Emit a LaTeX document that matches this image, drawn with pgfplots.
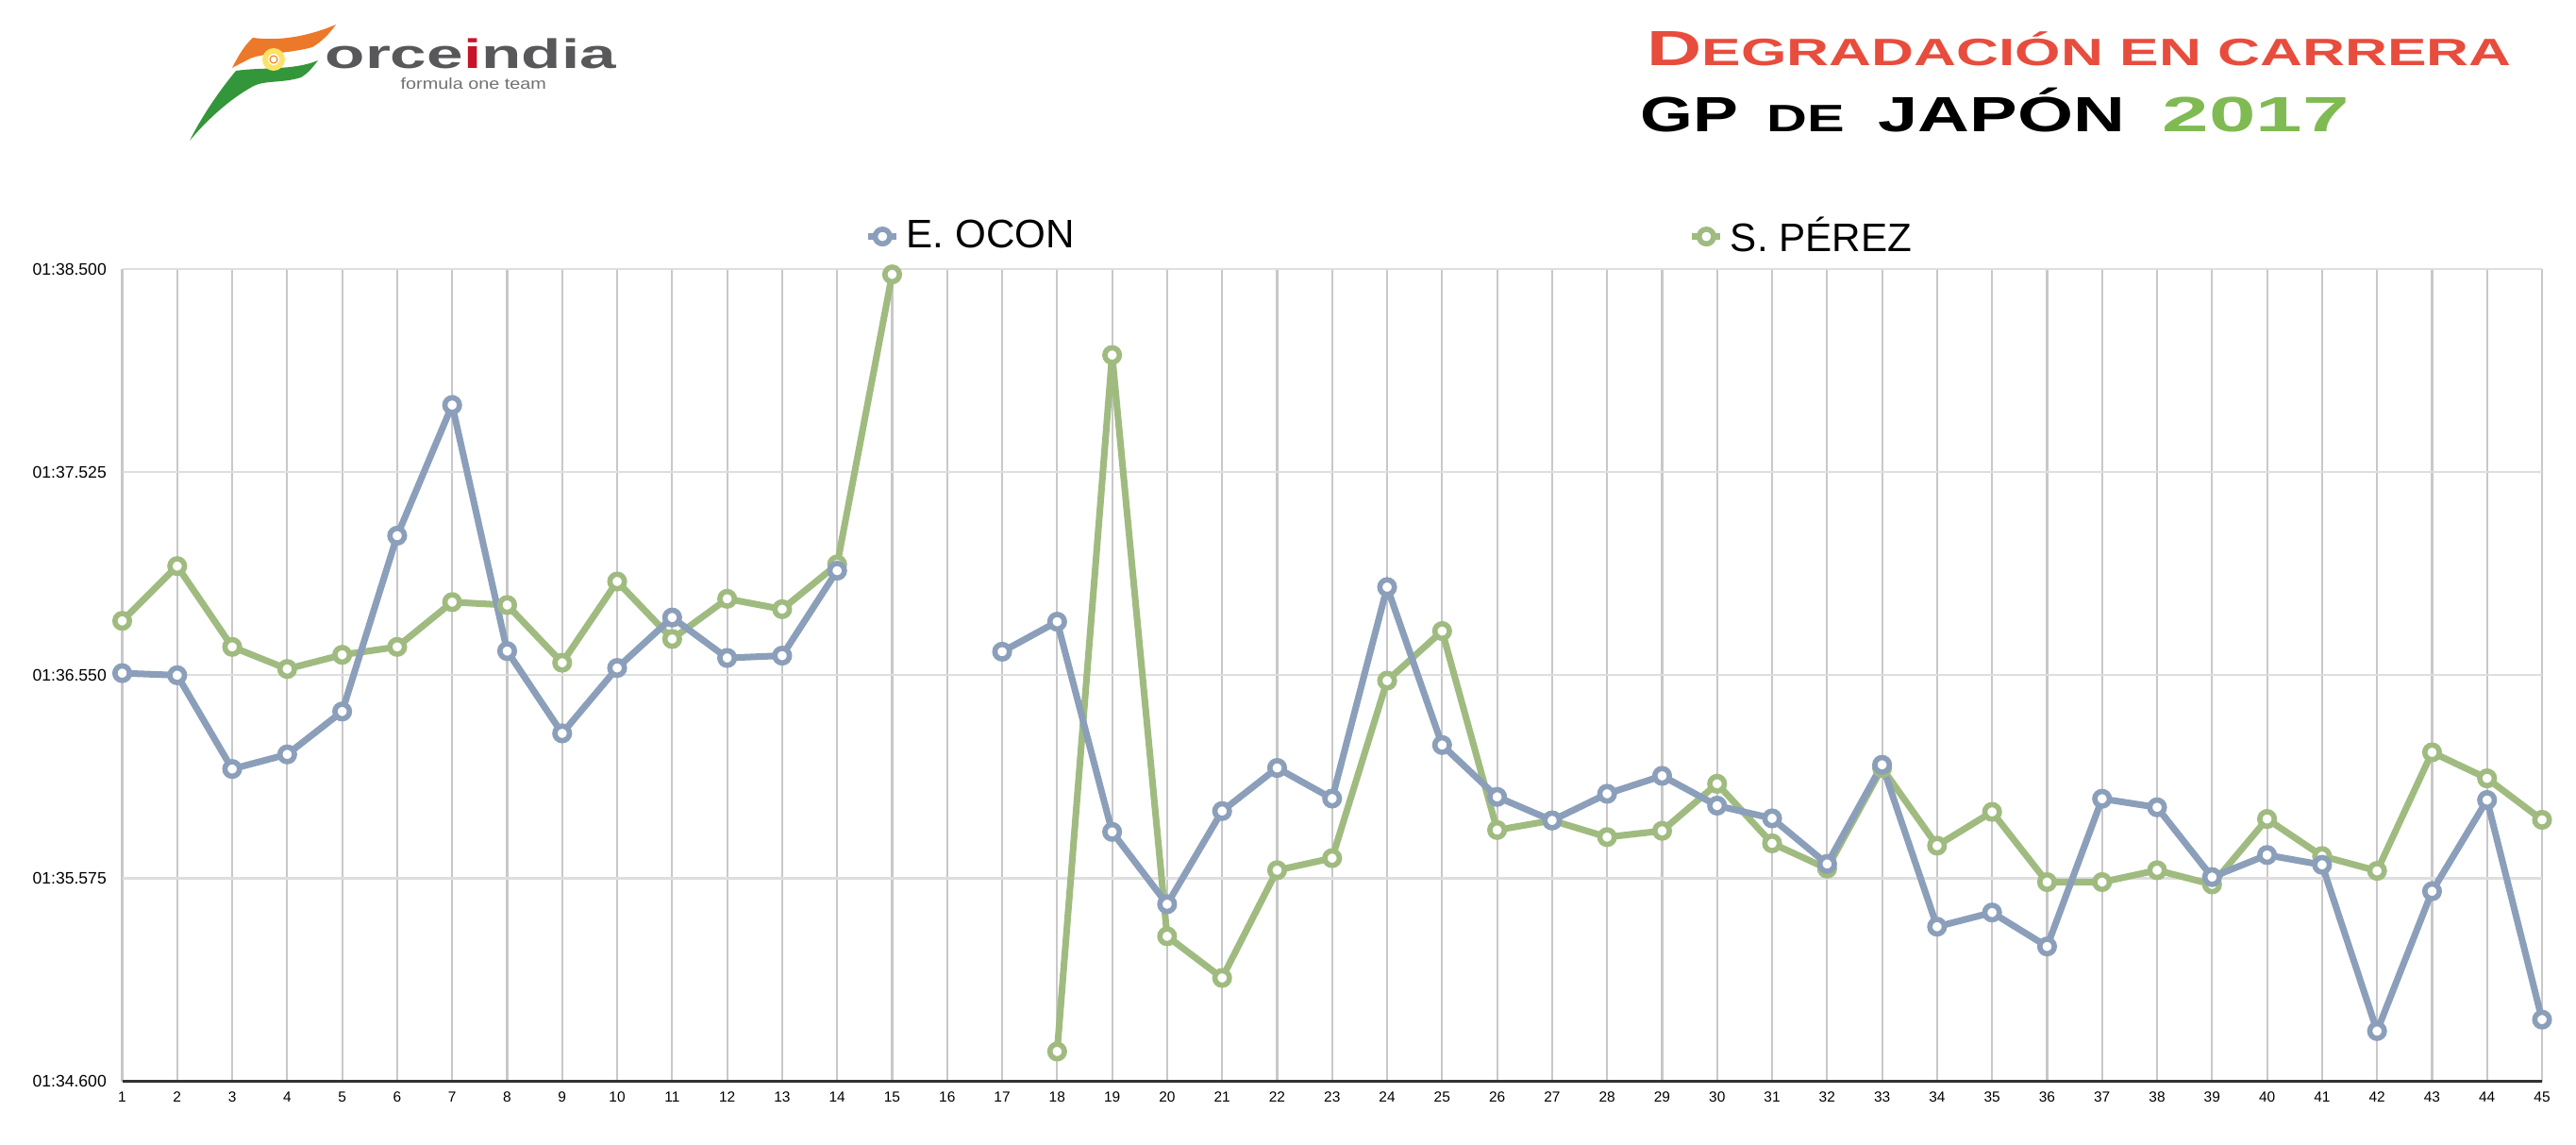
\documentclass[border=0pt]{standalone}
\usepackage{fontspec}
\setmainfont{Liberation Sans}
\usepackage{graphicx}
\usepackage{pgfplots}
\pgfplotsset{compat=1.18}
\usepackage{pgfplotstable}
\definecolor{ocon}{RGB}{139,159,186}
\definecolor{perez}{RGB}{160,187,128}
\definecolor{gridv}{RGB}{200,200,200}
\definecolor{gridh}{RGB}{222,222,222}
\definecolor{axisdark}{RGB}{50,50,50}
\definecolor{titlered}{RGB}{232,76,61}
\definecolor{titlegreen}{RGB}{128,186,82}
\definecolor{fiorange}{RGB}{236,120,42}
\definecolor{figreen}{RGB}{52,150,58}
\definecolor{figrey}{RGB}{88,88,90}
\definecolor{fired}{RGB}{200,20,40}

\pgfplotstableread{
lap ocon perez
1 96.560 96.811
2 96.550 97.074
3 96.100 96.686
4 96.170 96.580
5 96.376 96.648
6 97.220 96.686
7 97.847 96.901
8 96.666 96.887
9 96.271 96.610
10 96.585 97.000
11 96.827 96.724
12 96.633 96.917
13 96.644 96.867
14 97.052 97.082
15 nan 98.474
16 nan nan
17 96.663 nan
18 96.807 94.744
19 95.798 98.087
20 95.451 95.297
21 95.898 95.097
22 96.105 95.614
23 95.958 95.672
24 96.973 96.524
25 96.215 96.762
26 95.966 95.807
27 95.853 95.853
28 95.981 95.773
29 96.067 95.803
30 95.924 96.029
31 95.863 95.743
32 95.644 95.622
33 96.120 96.105
34 95.343 95.732
35 95.411 95.894
36 95.248 95.557
37 95.957 95.557
38 95.916 95.614
39 95.581 95.546
40 95.687 95.860
41 95.640 95.682
42 94.842 95.611
43 95.513 96.180
44 95.951 96.055
45 94.897 95.856
}\laps

\begin{document}
\begin{tikzpicture}
\path[use as bounding box] (0,0) rectangle (273mm,121.2mm);

% logo
\begin{scope}[shift={(0,121.2mm)}, x=0.1mm, y=-0.1mm]
\fill[fiorange] (268,40) .. controls (297,44) and (328,38) .. (356,26)
  .. controls (349,36) and (341,44) .. (331,50)
  .. controls (306,57) and (276,56) .. (263,63)
  .. controls (256,67) and (251,69) .. (246,72)
  .. controls (252,60) and (259,48) .. (268,40) -- cycle;
\fill[figreen] (250,75) .. controls (276,71) and (311,75) .. (337,64)
  .. controls (331,72) and (326,78) .. (319,82)
  .. controls (301,88) and (281,85) .. (269,91)
  .. controls (241,106) and (216,131) .. (201,149)
  .. controls (215,121) and (235,93) .. (250,75) -- cycle;
\fill[yellow!70!orange!60] (290,63) circle (12);
\fill[white] (290,63) circle (6);
\draw[orange!70!brown, line width=0.3pt] (290,63) circle (4);
\end{scope}
\node[anchor=base west, inner sep=0pt, text=figrey] at (34.4mm,113.9mm)
  {\scalebox{1.59}[1]{\fontsize{12.4}{13}\selectfont\bfseries orce{\color{fired}i}ndia}};
\node[anchor=base west, inner sep=0pt, text=figrey!85] at (42.4mm,111.7mm)
  {\scalebox{1.2}[1]{\fontsize{4.7}{5}\selectfont formula one team}};

% title
\node[anchor=base west, inner sep=0pt, text=titlered] at (174.5mm,114.25mm)
  {\scalebox{1.54}[1]{\bfseries{\fontsize{14.9}{16}\selectfont D}{\fontsize{11.5}{12}\selectfont EGRADACIÓN EN CARRERA}}};
\node[anchor=base west, inner sep=0pt] at (173.8mm,107.25mm)
  {\scalebox{1.37}[1]{\bfseries\fontsize{14.9}{16}\selectfont GP}};
\node[anchor=base west, inner sep=0pt] at (187.2mm,107.25mm)
  {\scalebox{1.47}[1]{\bfseries\fontsize{11.5}{12}\selectfont DE}};
\node[anchor=base west, inner sep=0pt] at (199.0mm,107.25mm)
  {\scalebox{1.45}[1]{\bfseries\fontsize{14.9}{16}\selectfont JAPÓN}};
\node[anchor=base west, inner sep=0pt, text=titlegreen] at (229.1mm,107.25mm)
  {\scalebox{1.7}[1]{\bfseries\fontsize{14.9}{16}\selectfont 2017}};

\begin{axis}[
  at={(12.95mm,6.63mm)}, anchor=south west,
  scale only axis, width=256.45mm, height=86.07mm,
  xmin=1, xmax=45, ymin=94.6, ymax=98.5,
  xtick={1,...,45},
  ytick={94.6,95.575,96.55,97.525,98.5},
  yticklabels={01:34.600,01:35.575,01:36.550,01:37.525,01:38.500},
  /pgf/number format/assume math mode=true,
  xmajorgrids, ymajorgrids,
  major x grid style={draw=gridv, line width=0.6pt},
  major y grid style={draw=gridh, line width=0.6pt},
  major tick length=0pt,
  axis x line=bottom, axis y line=left,
  x axis line style={-, draw=axisdark, line width=0.9pt},
  y axis line style={draw=none},
  xticklabel style={font=\fontsize{4.4}{5}\selectfont, inner sep=0pt, yshift=-1.05mm},
  yticklabel style={font=\fontsize{5}{6}\selectfont, inner sep=0pt, xshift=-1.6mm},
  unbounded coords=jump,
  clip=false,
  reverse legend,
  legend columns=2,
  legend style={at={(0.3067,1.040)}, anchor=west, draw=none, fill=none,
    inner sep=0pt, font=\fontsize{12}{14}\selectfont,
    /tikz/every even column/.append style={column sep=64.4mm}},
  legend image code/.code={\draw[#1, mark repeat=2, mark phase=2] plot coordinates {(0mm,0mm) (1.5mm,0mm) (3mm,0mm)};},
  every axis plot/.append style={line width=2pt, mark=*, mark size=2.2pt,
    mark options={fill=white, line width=1.6pt}},
]
\addplot[color=perez] table[x=lap, y=perez] {\laps};
\addlegendentry{S. PÉREZ}
\addplot[color=ocon] table[x=lap, y=ocon] {\laps};
\addlegendentry{E. OCON}
\end{axis}
\end{tikzpicture}
\end{document}
